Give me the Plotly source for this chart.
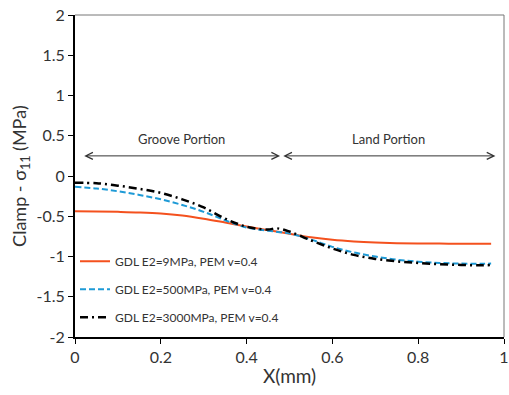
import plotly.graph_objects as go

x_red = [0, 0.05, 0.1, 0.15, 0.2, 0.25, 0.3, 0.35, 0.4, 0.45, 0.5, 0.55, 0.6, 0.65, 0.7, 0.75, 0.8, 0.85, 0.9, 0.95, 0.97]
y_red = [-0.438, -0.44, -0.445, -0.452, -0.465, -0.49, -0.53, -0.578, -0.628, -0.673, -0.718, -0.762, -0.793, -0.813,
         -0.826, -0.834, -0.838, -0.84, -0.842, -0.843, -0.843]

x_blue = [0, 0.05, 0.1, 0.15, 0.2, 0.25, 0.3, 0.35, 0.4, 0.45, 0.5, 0.55, 0.6, 0.65, 0.7, 0.75, 0.8, 0.85, 0.9, 0.95, 0.97]
y_blue = [-0.135, -0.155, -0.19, -0.235, -0.29, -0.36, -0.445, -0.55, -0.64, -0.68, -0.715, -0.79, -0.88, -0.95,
          -1.0, -1.04, -1.065, -1.08, -1.088, -1.09, -1.088]

x_black = [0, 0.05, 0.1, 0.15, 0.2, 0.25, 0.3, 0.35, 0.4, 0.45, 0.47, 0.5, 0.55, 0.6, 0.65, 0.7, 0.75, 0.8, 0.85, 0.9, 0.95, 0.97]
y_black = [-0.085, -0.09, -0.12, -0.16, -0.21, -0.29, -0.39, -0.53, -0.63, -0.665, -0.65, -0.69, -0.8, -0.9,
           -0.98, -1.03, -1.06, -1.08, -1.095, -1.105, -1.11, -1.105]

series_names = ["GDL E2=9MPa, PEM v=0.4", "GDL E2=500MPa, PEM v=0.4", "GDL E2=3000MPa, PEM v=0.4"]

x_ticks = [0, 0.2, 0.4, 0.6, 0.8, 1]
x_tick_labels = ["0", "0.2", "0.4", "0.6", "0.8", "1"]
y_ticks = [-2, -1.5, -1, -0.5, 0, 0.5, 1, 1.5, 2]
y_tick_labels = ["-2", "-1.5", "-1", "-0.5", "0", "0.5", "1", "1.5", "2"]

regions = ["Groove Portion", "Land Portion"]
region_start = [0.018, 0.482]
region_end = [0.478, 0.98]
arrow_y = 0.25
label_y = 0.46

FONT = "Lato, 'Open Sans', sans-serif"
TXT = "#333333"

fig = go.Figure()
fig.add_trace(go.Scatter(x=x_red, y=y_red, mode="lines", name=series_names[0], legendgroup="a",
                         line=dict(color="#F4511E", width=2, shape="spline")))
fig.add_trace(go.Scatter(x=x_blue, y=y_blue, mode="lines", name=series_names[1], legendgroup="b",
                         line=dict(color="#1E9AD6", width=2, dash="6px,3px", shape="spline")))
fig.add_trace(go.Scatter(x=x_black, y=y_black, mode="lines", name=series_names[2], legendgroup="c",
                         line=dict(color="#000000", width=2.5, dash="8px,4px,2px,4px", shape="spline")))

for name, x0, x1 in zip(regions, region_start, region_end):
    fig.add_annotation(x=x1, y=arrow_y, ax=x0, ay=arrow_y, xref="x", yref="y", axref="x", ayref="y",
                       text="", showarrow=True, arrowhead=5, startarrowhead=5, arrowside="end+start",
                       arrowsize=1.4, startarrowsize=1.4, arrowwidth=1, arrowcolor="#333333")
    fig.add_annotation(x=(x0 + x1) / 2, y=label_y, xref="x", yref="y", text=name, showarrow=False,
                       font=dict(family=FONT, size=13, color=TXT))

# top and right frame (thin grey)
fig.add_shape(type="line", xref="x domain", yref="y domain", x0=0, x1=1, y0=1, y1=1,
              line=dict(color="#777777", width=1))
fig.add_shape(type="line", xref="x domain", yref="y domain", x0=1, x1=1, y0=0, y1=1,
              line=dict(color="#777777", width=1))

fig.update_layout(
    width=509, height=395,
    margin=dict(l=75, r=5, t=15, b=58),
    plot_bgcolor="white", paper_bgcolor="white",
    font=dict(family=FONT, color=TXT),
    showlegend=True,
    legend=dict(x=0.0, y=0.28, xanchor="left", yanchor="top", bgcolor="rgba(0,0,0,0)",
                font=dict(family=FONT, size=12, color=TXT), tracegroupgap=9),
    xaxis=dict(range=[0, 1], tickvals=x_ticks, ticktext=x_tick_labels, showgrid=False, zeroline=False,
               showline=True, linecolor="black", linewidth=2, ticks="outside", ticklen=5, tickwidth=1,
               tickcolor="black", tickfont=dict(size=16, color=TXT), automargin=False,
               title=dict(text="X(mm)", font=dict(size=19, color=TXT), standoff=4)),
    yaxis=dict(range=[-2, 2], tickvals=y_ticks, ticktext=y_tick_labels, showgrid=False, zeroline=False,
               showline=True, linecolor="black", linewidth=2, ticks="outside", ticklen=5, tickwidth=1,
               tickcolor="black", tickfont=dict(size=16, color=TXT), automargin=False,
               title=dict(text="Clamp - σ<sub>11</sub> (MPa)", font=dict(size=18, color=TXT), standoff=5)),
)

fig.write_html("out.html", config={"displayModeBar": False},
               post_script="document.body.style.margin='0';document.body.style.overflow='hidden';")
